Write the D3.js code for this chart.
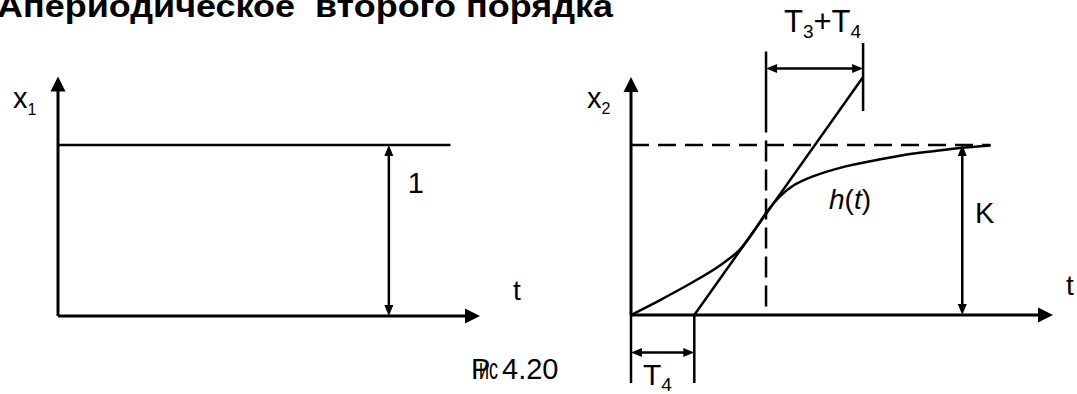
<!DOCTYPE html>
<html>
<head>
<meta charset="utf-8">
<script src="https://cdn.jsdelivr.net/npm/d3@7"></script>
<style>
body{margin:0;background:#fff}
svg{display:block}
text{font-family:"Liberation Sans",Arial,sans-serif;fill:#000;white-space:pre}
</style>
</head>
<body>
<div id="chart"></div>
<script>
const title = "Апериодическое  второго порядка"
const captionParts = ["Р", "ис", "4.20"]

// left panel: input step x1(t)
const leftAxisEnd = [10, 1.4]     // t end, x1 end
const stepT = [0, 9.3]
const stepV = [1, 1]
const unitArrowT = 7.84

// right panel: output x2(t) = h(t)
const rightAxisEnd = [10, 1.4]
const hT = [0, 0.69, 1.47, 2.1, 2.58, 2.9, 3.2, 3.5, 3.84, 4.31, 5.02, 5.83, 6.61, 7.39, 7.8, 8.52]
const hV = [0, 0.088, 0.194, 0.29, 0.385, 0.49, 0.6, 0.69, 0.76, 0.815, 0.87, 0.912, 0.947, 0.97, 0.982, 0.997]
const tangentT = [1.5, 5.5]
const tangentV = [0, 1.4]
const T4 = 1.5
const inflT = 3.2
const kArrowT = 7.85
const gainK = 1

const width = 1077
const height = 394

const svg = d3.select("#chart").append("svg")
    .attr("width", width)
    .attr("height", height)

const xL = d3.scaleLinear().domain([0, 10]).range([58, 480])
const yL = d3.scaleLinear().domain([0, 1]).range([316, 145])
const xR = d3.scaleLinear().domain([0, 10]).range([631, 1053])
const yR = d3.scaleLinear().domain([0, 1]).range([315, 145])

function line(x1, y1, x2, y2, w, dash){
    const l = svg.append("line")
        .attr("x1", x1).attr("y1", y1)
        .attr("x2", x2).attr("y2", y2)
        .attr("stroke", "#000")
        .attr("stroke-width", w)
    if (dash) l.attr("stroke-dasharray", dash)
    return l
}

function head(x, y, dx, dy, len, w){
    const bx = x - dx * len, by = y - dy * len
    const px = -dy * w / 2, py = dx * w / 2
    svg.append("path")
        .attr("d", `M${x},${y}L${bx + px},${by + py}L${bx - px},${by - py}Z`)
        .attr("fill", "#000")
}

// arrow from a to b (head at b)
function arrow(x1, y1, x2, y2, sw, len, w){
    const d = Math.hypot(x2 - x1, y2 - y1)
    const dx = (x2 - x1) / d, dy = (y2 - y1) / d
    line(x1, y1, x2 - dx * (len - 1), y2 - dy * (len - 1), sw)
    head(x2, y2, dx, dy, len, w)
}

function dimArrow(x1, y1, x2, y2){
    const d = Math.hypot(x2 - x1, y2 - y1)
    const dx = (x2 - x1) / d, dy = (y2 - y1) / d
    const len = 11
    line(x1 + dx * (len - 1), y1 + dy * (len - 1), x2 - dx * (len - 1), y2 - dy * (len - 1), 2.5)
    head(x2, y2, dx, dy, len, 9)
    head(x1, y1, -dx, -dy, len, 9)
}

function label(x, y, parts, size){
    const t = svg.append("text").attr("x", x).attr("y", y).attr("font-size", size)
    parts.forEach(p => {
        const s = t.append("tspan").text(p.s)
        if (p.size) s.attr("font-size", p.size)
        if (p.dy) s.attr("dy", p.dy)
        if (p.italic) s.attr("font-style", "italic")
    })
    return t
}

// title (cut at the top edge like the scan)
svg.append("text")
    .attr("x", -3).attr("y", 17)
    .attr("font-size", 31)
    .attr("font-weight", "bold")
    .attr("textLength", 616)
    .attr("lengthAdjust", "spacingAndGlyphs")
    .text(title)

// ---- left panel
arrow(xL(0), yL(0), xL(leftAxisEnd[0]), yL(0), 3, 15, 15)
arrow(xL(0), yL(0), xL(0), yL(leftAxisEnd[1]), 3, 15, 15)
line(xL(stepT[0]), yL(stepV[0]), xL(stepT[1]), yL(stepV[1]), 2.5)
dimArrow(xL(unitArrowT), yL(1), xL(unitArrowT), yL(0))

label(13, 108, [{s: "x"}, {s: "1", size: 16, dy: 7}], 29)
label(xL(unitArrowT) + 19, 193, [{s: "1"}], 29)
label(513, 300, [{s: "t"}], 28)

// ---- right panel
arrow(xR(0), yR(0), xR(rightAxisEnd[0]), yR(0), 3, 15, 15)
arrow(xR(0), yR(0), xR(0), yR(rightAxisEnd[1]), 3, 15, 15)

// K level (dashed)
line(xR(0), yR(gainK), xR(hT[hT.length - 1]), yR(gainK), 2.5, "18,9")

// vertical through inflection point
line(xR(inflT), yR(0.05), xR(inflT), yR(1.1), 2.5, "21,8")
line(xR(inflT), yR(1.1), xR(inflT), yR(1.55), 2.5)

// tangent
line(xR(tangentT[0]), yR(tangentV[0]), xR(tangentT[1]), yR(tangentV[1]), 2.5)
line(xR(tangentT[1]), yR(1.2), xR(tangentT[1]), yR(1.6), 2.5)

// h(t)
const hLine = d3.line()
    .x(d => xR(d[0]))
    .y(d => yR(d[1]))
    .curve(d3.curveCatmullRom.alpha(0.5))
svg.append("path")
    .datum(hT.map((t, i) => [t, hV[i]]))
    .attr("d", hLine)
    .attr("fill", "none")
    .attr("stroke", "#000")
    .attr("stroke-width", 2.5)

// dimensions
dimArrow(xR(inflT), yR(1.45), xR(tangentT[1]), yR(1.45))
dimArrow(xR(kArrowT), yR(gainK), xR(kArrowT), yR(0))
line(xR(0), yR(0), xR(0), yR(-0.4), 2.5)
line(xR(T4), yR(0), xR(T4), yR(-0.4), 2.5)
dimArrow(xR(0), yR(-0.22), xR(T4), yR(-0.22))

label(587, 108, [{s: "x"}, {s: "2", size: 16, dy: 6}], 29)
label(784, 32, [{s: "T"}, {s: "3", size: 19, dy: 6}, {s: "+T", dy: -6}, {s: "4", size: 19, dy: 6}], 31)
label(643, 385, [{s: "T"}, {s: "4", size: 19, dy: 6}], 30)
label(829, 209, [{s: "h", italic: true}, {s: "("}, {s: "t", italic: true}, {s: ")"}], 28)
label(975, 223, [{s: "K"}], 29)
label(1066, 295, [{s: "t"}], 28)

// caption, with the overlapped letters as in the scan
svg.append("text").attr("x", 471).attr("y", 379).attr("font-size", 29).text(captionParts[0])
svg.append("text").attr("x", 479).attr("y", 379).attr("font-size", 29)
    .attr("textLength", 19).attr("lengthAdjust", "spacingAndGlyphs").text(captionParts[1])
svg.append("text").attr("x", 502).attr("y", 379).attr("font-size", 29).text(captionParts[2])
</script>
</body>
</html>
